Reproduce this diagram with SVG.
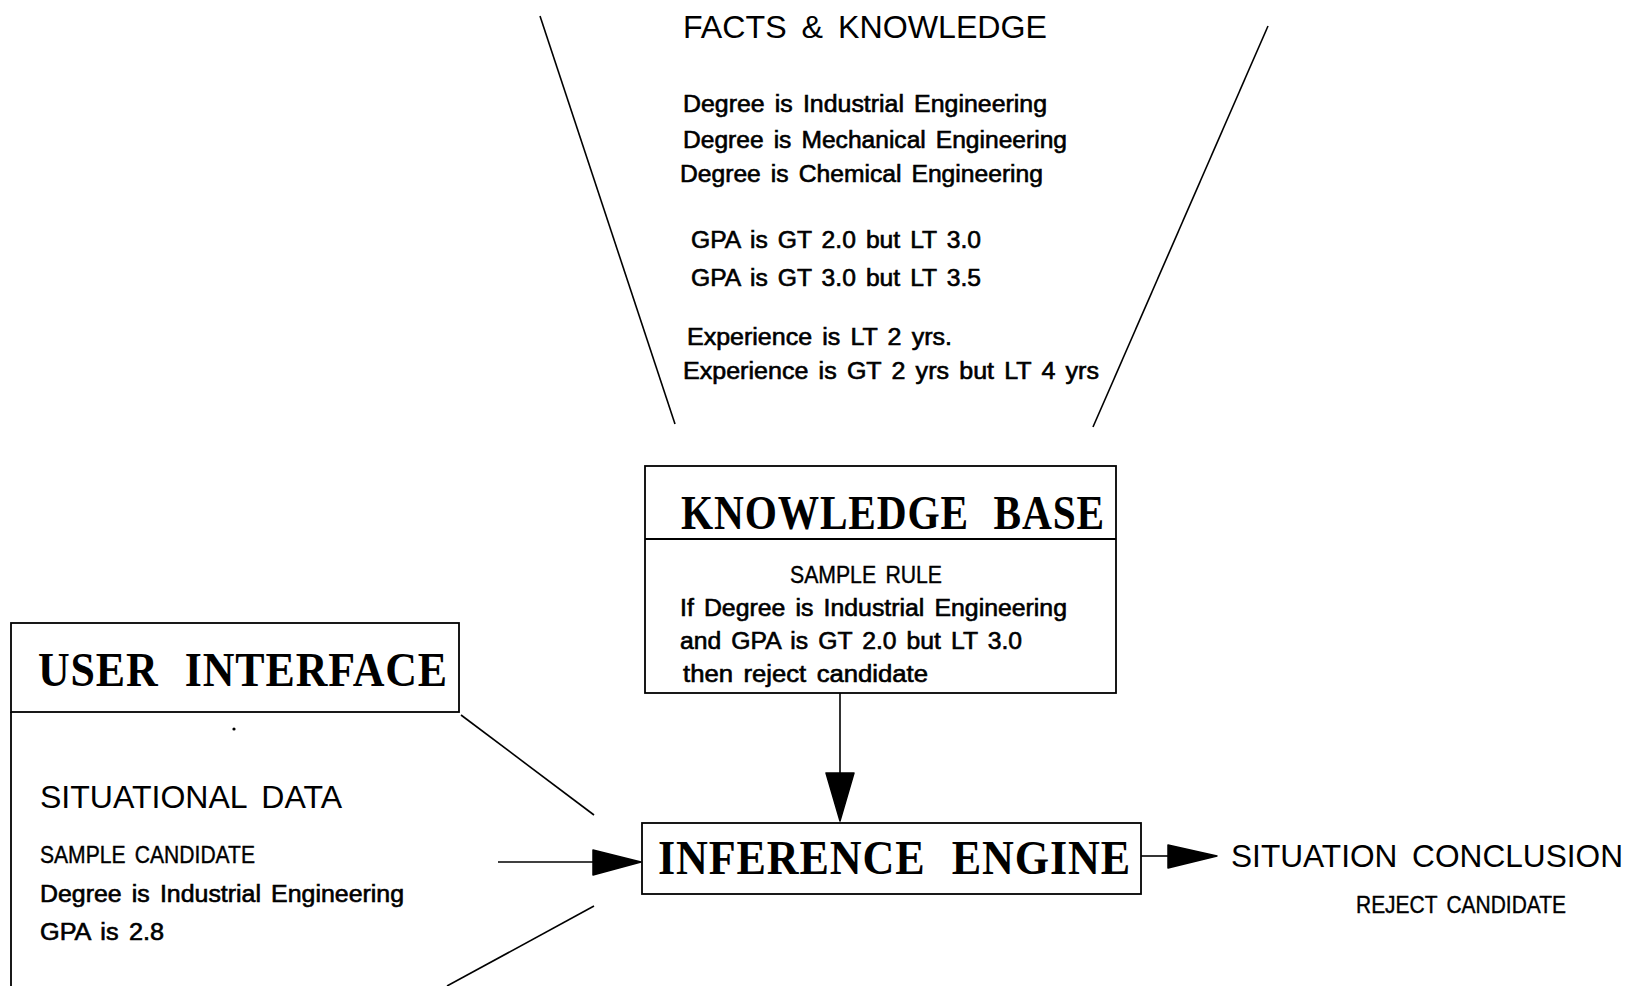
<svg xmlns="http://www.w3.org/2000/svg" width="1642" height="986" viewBox="0 0 1642 986">
<style>
.bg{fill:#fff}
.ln{stroke:#000;stroke-width:1.6;fill:none}
.box{stroke:#000;stroke-width:1.8;fill:none}
.head{font-family:"Liberation Sans",Arial,sans-serif;font-size:32px;fill:#000;word-spacing:6px}
.body{font-family:"Liberation Sans",Arial,sans-serif;font-size:23px;fill:#000;stroke:#000;stroke-width:0.6;word-spacing:3px}
.sub{font-family:"Liberation Sans",Arial,sans-serif;font-size:24px;fill:#000;stroke:#000;stroke-width:0.4;word-spacing:4px}
.title{font-family:"Liberation Serif","Times New Roman",serif;font-size:49px;font-weight:bold;fill:#000;word-spacing:16px;letter-spacing:1px}
.ah{fill:#000;stroke:#000;stroke-width:1.5;stroke-linejoin:round}
</style>
<rect class="bg" x="0" y="0" width="1642" height="986"/>

<g id="facts">
<line class="ln" x1="540" y1="16" x2="675" y2="424"/>
<line class="ln" x1="1268" y1="26" x2="1093" y2="427"/>
<text class="head" x="683" y="38" textLength="364" lengthAdjust="spacingAndGlyphs">FACTS &amp; KNOWLEDGE</text>
<text class="body" x="683" y="112" textLength="364" lengthAdjust="spacingAndGlyphs">Degree is Industrial Engineering</text>
<text class="body" x="683" y="148" textLength="384" lengthAdjust="spacingAndGlyphs">Degree is Mechanical Engineering</text>
<text class="body" x="680" y="182" textLength="363" lengthAdjust="spacingAndGlyphs">Degree is Chemical Engineering</text>
<text class="body" x="691" y="248" textLength="290" lengthAdjust="spacingAndGlyphs">GPA is GT 2.0 but LT 3.0</text>
<text class="body" x="691" y="286" textLength="290" lengthAdjust="spacingAndGlyphs">GPA is GT 3.0 but LT 3.5</text>
<text class="body" x="687" y="345" textLength="265" lengthAdjust="spacingAndGlyphs">Experience is LT 2 yrs.</text>
<text class="body" x="683" y="379" textLength="416" lengthAdjust="spacingAndGlyphs">Experience is GT 2 yrs but LT 4 yrs</text>
</g>

<g id="knowledge-base">
<rect class="box" x="645" y="466" width="471" height="227"/>
<line class="box" x1="645" y1="539" x2="1116" y2="539"/>
<text class="title" x="681" y="529" textLength="424" lengthAdjust="spacingAndGlyphs">KNOWLEDGE BASE</text>
<text class="sub" x="790" y="583" textLength="152" lengthAdjust="spacingAndGlyphs">SAMPLE RULE</text>
<text class="body" x="680" y="616" textLength="387" lengthAdjust="spacingAndGlyphs">If Degree is Industrial Engineering</text>
<text class="body" x="680" y="649" textLength="342" lengthAdjust="spacingAndGlyphs">and GPA is GT 2.0 but LT 3.0</text>
<text class="body" x="683" y="682" textLength="245" lengthAdjust="spacingAndGlyphs">then reject candidate</text>
</g>

<g id="user-interface">
<rect class="box" x="11" y="623" width="448" height="89"/>
<line class="box" x1="11" y1="712" x2="11" y2="986"/>
<text class="title" x="38" y="686" textLength="410" lengthAdjust="spacingAndGlyphs">USER INTERFACE</text>
<circle cx="234" cy="729" r="1.6" fill="#000"/>
<text class="head" x="40" y="808" textLength="302" lengthAdjust="spacingAndGlyphs">SITUATIONAL DATA</text>
<text class="sub" x="40" y="863" textLength="215" lengthAdjust="spacingAndGlyphs">SAMPLE CANDIDATE</text>
<text class="body" x="40" y="902" textLength="364" lengthAdjust="spacingAndGlyphs">Degree is Industrial Engineering</text>
<text class="body" x="40" y="940" textLength="124" lengthAdjust="spacingAndGlyphs">GPA is 2.8</text>
</g>

<g id="inference-engine">
<rect class="box" x="642" y="823" width="499" height="71"/>
<text class="title" x="658" y="874" textLength="473" lengthAdjust="spacingAndGlyphs">INFERENCE ENGINE</text>
</g>

<g id="conclusion">
<text class="head" x="1231" y="867" textLength="392" lengthAdjust="spacingAndGlyphs">SITUATION CONCLUSION</text>
<text class="sub" x="1356" y="913" textLength="210" lengthAdjust="spacingAndGlyphs">REJECT CANDIDATE</text>
</g>

<g id="connectors">
<line class="ln" x1="840" y1="693" x2="840" y2="775"/>
<polygon class="ah" points="826,773 854,773 840,821"/>
<line class="ln" x1="498" y1="862" x2="594" y2="862"/>
<polygon class="ah" points="593,850 593,875 641,862"/>
<line class="ln" x1="461" y1="715" x2="594" y2="815"/>
<line class="ln" x1="594" y1="906" x2="447" y2="986"/>
<line class="ln" x1="1141" y1="856" x2="1170" y2="856"/>
<polygon class="ah" points="1168,845 1168,868 1217,856"/>
</g>
</svg>
